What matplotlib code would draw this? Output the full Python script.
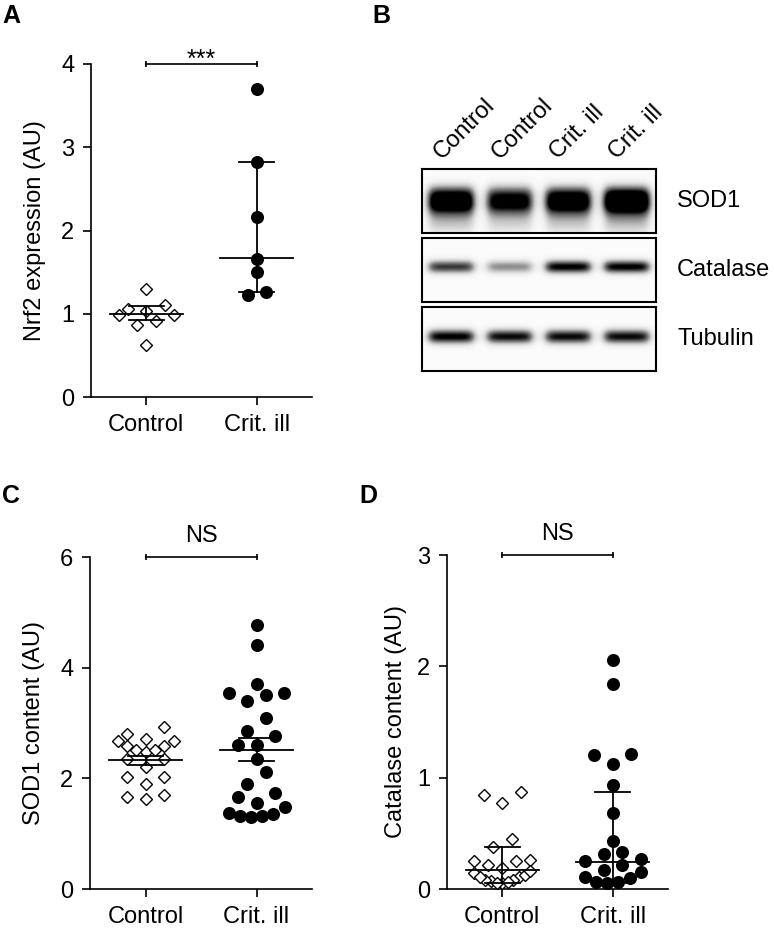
import matplotlib.pyplot as plt
import numpy as np

plt.rcParams['font.family'] = ['Liberation Sans', 'DejaVu Sans']
plt.rcParams['font.size'] = 17

W, H = 774, 933

groups = ['Control', 'Crit. ill']

# panel A - Nrf2 expression
nrf2_control = [1.30, 1.06, 0.99, 0.91, 0.87, 0.99, 1.03, 1.11, 0.62]
nrf2_critill = [3.70, 2.82, 2.16, 1.66, 1.50, 1.22, 1.26]
nrf2_center = [1.00, 1.67]
nrf2_low = [0.92, 1.26]
nrf2_high = [1.09, 2.82]

# panel C - SOD1 content
sod1_control = [2.92, 2.80, 2.68, 2.58, 2.52, 2.47, 2.52, 2.58, 2.68, 2.71,
                2.35, 2.35, 2.20, 2.02, 2.02, 1.89, 1.69, 1.63, 1.66]
sod1_critill = [4.77, 4.41, 3.71, 3.51, 3.54, 3.39, 3.54, 3.09, 2.86, 2.77,
                2.61, 2.61, 2.35, 2.11, 1.89, 1.74, 1.66, 1.56, 1.38, 1.32,
                1.30, 1.32, 1.36, 1.48]
sod1_center = [2.34, 2.52]
sod1_low = [2.25, 2.31]
sod1_high = [2.41, 2.73]

# panel D - Catalase content
cat_control = [0.84, 0.77, 0.87, 0.45, 0.38, 0.22, 0.25, 0.25, 0.26, 0.14,
               0.11, 0.08, 0.07, 0.05, 0.05, 0.06, 0.08, 0.11, 0.13, 0.16, 0.19]
cat_critill = [2.06, 1.84, 1.21, 1.12, 1.20, 0.93, 0.68, 0.43, 0.31, 0.27,
               0.33, 0.25, 0.17, 0.11, 0.06, 0.05, 0.06, 0.10, 0.15, 0.22]
cat_center = [0.17, 0.24]
cat_low = [0.05, 0.05]
cat_high = [0.38, 0.87]

# panel B - western blot
lane_labels = ['Control', 'Control', 'Crit. ill', 'Crit. ill']
blot_rows = ['SOD1', 'Catalase', 'Tubulin']
band_sod1 = [1.15, 0.95, 1.1, 1.3]
band_catalase = [0.8, 0.5, 1.0, 1.0]
band_tubulin = [1.0, 0.95, 0.95, 0.95]


fig = plt.figure(figsize=(W / 100, H / 100), dpi=100)


def px_axes(l, t, r, b):
    return fig.add_axes([l / W, 1 - b / H, (r - l) / W, (b - t) / H])


def scatter_rows(ax, values, center, row_h=13, spacing=18.5, max_w=56):
    # prism-like layout: group close values into rows, spread them sideways
    ys = ax.transData.transform([(center, v) for v in values])[:, 1]
    sx = ax.transData.transform((1, 0))[0] - ax.transData.transform((0, 0))[0]
    order = np.argsort(ys, kind='stable')
    offs = np.zeros(len(values))
    i = 0
    while i < len(order):
        start = ys[order[i]]
        j = i
        while j < len(order) and ys[order[j]] - start <= row_h:
            j += 1
        idx = order[i:j]
        m = len(idx)
        s = spacing if m < 2 else min(spacing, max_w / (m - 1))
        slots = sorted([(k - (m - 1) / 2) * s for k in range(m)], key=lambda p: (abs(p), p))
        for k, slot in zip(idx, slots):
            offs[k] = slot
        i = j
    return center + offs / sx


def dot_panel(ax, ctrl, crit, center, low, high, ylim, yticks, ylabel, sig):
    ax.set_xlim(-0.5, 1.5)
    ax.set_ylim(*ylim)
    for sp in ['top', 'right']:
        ax.spines[sp].set_visible(False)
    for sp in ['left', 'bottom']:
        ax.spines[sp].set_linewidth(1.2)
    ax.set_xticks([0, 1])
    ax.set_xticklabels(groups)
    ax.set_yticks(yticks)
    ax.tick_params(length=6, width=1.2, pad=6, labelsize=17)

    xc = scatter_rows(ax, ctrl, 0)
    ax.plot(xc, ctrl, 'D', ms=6.5, mfc='white', mec='black', mew=1.0,
            ls='none', clip_on=False, zorder=3)
    xk = scatter_rows(ax, crit, 1)
    ax.plot(xk, crit, 'o', ms=9.4, mfc='black', mec='black', mew=0,
            ls='none', clip_on=False, zorder=3)

    for i in range(2):
        ax.plot([i - 0.33, i + 0.33], [center[i]] * 2, color='black', lw=1.3, zorder=4)
        ax.plot([i, i], [low[i], high[i]], color='black', lw=1.3, zorder=4)
        ax.plot([i - 0.16, i + 0.16], [low[i]] * 2, color='black', lw=1.3, zorder=4)
        ax.plot([i - 0.16, i + 0.16], [high[i]] * 2, color='black', lw=1.3, zorder=4)

    top = ylim[1]
    ax.plot([0, 1], [top, top], color='black', lw=1.2, clip_on=False)
    ax.plot([0, 1], [top, top], '|', color='black', ms=5, mew=1.2, clip_on=False)
    if sig == '***':
        ax.annotate(sig, xy=(0.5, top), xytext=(0, -2), textcoords='offset points',
                    ha='center', va='baseline', fontsize=18)
    else:
        ax.annotate(sig, xy=(0.5, top), xytext=(0, 11), textcoords='offset points',
                    ha='center', va='baseline', fontsize=17)
    ax.set_ylabel(ylabel, fontsize=17)


axA = px_axes(91, 64, 312, 397)
dot_panel(axA, nrf2_control, nrf2_critill, nrf2_center, nrf2_low, nrf2_high,
          (0, 4), [0, 1, 2, 3, 4], 'Nrf2 expression (AU)', '***')
axA.yaxis.set_label_coords(-0.204, 0.5)

axC = px_axes(90, 557, 312, 889)
dot_panel(axC, sod1_control, sod1_critill, sod1_center, sod1_low, sod1_high,
          (0, 6), [0, 2, 4, 6], 'SOD1 content (AU)', 'NS')
axC.yaxis.set_label_coords(-0.204, 0.5)

axD = px_axes(447, 555, 668, 889)
dot_panel(axD, cat_control, cat_critill, cat_center, cat_low, cat_high,
          (0, 3), [0, 1, 2, 3], 'Catalase content (AU)', 'NS')
axD.yaxis.set_label_coords(-0.18, 0.5)


# western blot strips
def band_image(intensity, center, sigma, power=2.0, tail=0.0, nx=468, ny=128):
    x = (np.arange(nx) + 0.5) / nx * 4
    y = (np.arange(ny) + 0.5) / ny
    img = np.full((ny, nx), 0.03)
    for i, v in enumerate(intensity):
        c = i + 0.5
        hx = 0.5 * (np.tanh((x - (c - 0.38)) / 0.09) - np.tanh((x - (c + 0.38)) / 0.09))
        vy = np.exp(-0.5 * np.abs((y - center) / sigma) ** power)
        vy = vy + tail * np.exp(-0.5 * ((y - center + 1.6 * sigma) / (1.3 * sigma)) ** 2)
        img += v * np.outer(vy, hx)
    return np.clip(img, 0, 1)


strips = [
    (169, 233, band_sod1, 0.52, 0.15, 2.4, 0.35),
    (238, 302, band_catalase, 0.55, 0.07, 2.0, 0.0),
    (307, 371, band_tubulin, 0.53, 0.075, 2.0, 0.0),
]
blot_axes = []
for (t, b, inten, cen, sig, pw, tail), name in zip(strips, blot_rows):
    ax = px_axes(422, t, 656, b)
    ax.imshow(band_image(inten, cen, sig, pw, tail), cmap='Greys', vmin=0, vmax=1,
              origin='lower', extent=(0, 4, 0, 1), aspect='auto',
              interpolation='bilinear')
    ax.set_xlim(0, 4)
    ax.set_ylim(0, 1)
    ax.set_xticks([])
    ax.set_yticks([])
    for sp in ax.spines.values():
        sp.set_linewidth(1.5)
    ax.text(1.09, 0.5, name, transform=ax.transAxes, ha='left', va='center', fontsize=17)
    blot_axes.append(ax)

for i, lab in enumerate(lane_labels):
    blot_axes[0].text(i + 0.33, 1.14, lab, rotation=45, rotation_mode='anchor',
                      ha='left', va='baseline', fontsize=17, clip_on=False)

# panel letters
for letter, x, y in [('A', 2, 4), ('B', 372, 4), ('C', 2, 484), ('D', 359, 484)]:
    fig.text(x / W, 1 - y / H, letter, fontsize=18, fontweight='bold',
             ha='left', va='top')

fig.savefig('out.png', dpi=100)
